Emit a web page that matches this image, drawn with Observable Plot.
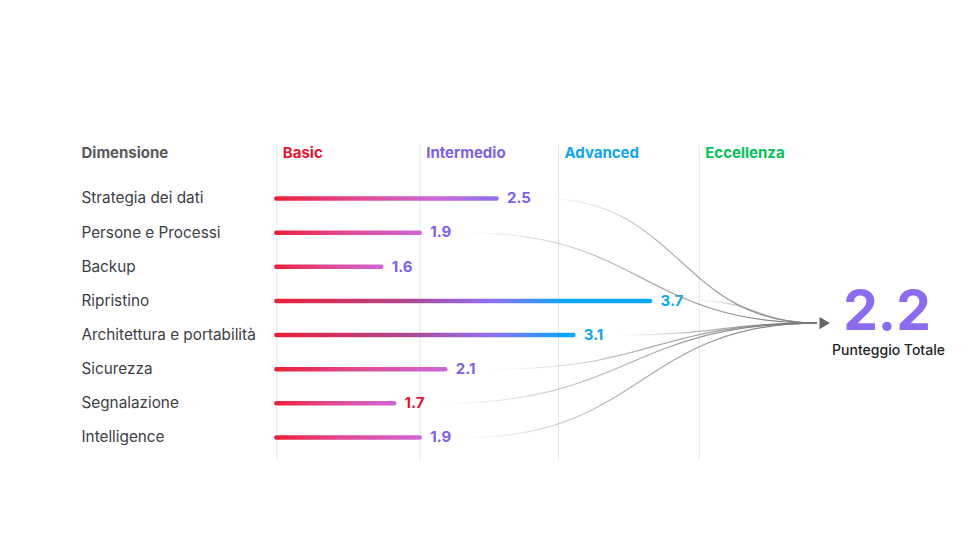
<!DOCTYPE html>
<html><head><meta charset="utf-8">
<script src="https://cdn.jsdelivr.net/npm/d3@7"></script>
<script src="https://cdn.jsdelivr.net/npm/@observablehq/plot@0.6"></script>
<style>
html,body{margin:0;padding:0;background:#fff;}
#chart{width:978px;height:558px;}
</style></head><body><div id="chart"></div>
<script>
// ---- data ----
const dimensions = ["Strategia dei dati","Persone e Processi","Backup","Ripristino","Architettura e portabilità","Sicurezza","Segnalazione","Intelligence"];
const scores = [2.5, 1.9, 1.6, 3.7, 3.1, 2.1, 1.7, 1.9];
const scoreLevels = ["Intermedio","Intermedio","Intermedio","Advanced","Advanced","Intermedio","Basic","Intermedio"];
const feedsTotal = [true, true, false, true, true, true, true, true];
const levelNames = ["Basic","Intermedio","Advanced","Eccellenza"];
const levelStarts = [0.78, 1.9, 2.98, 4.08];
const totalScore = 2.2;
const totalLabel = "Punteggio Totale";
const headerLabel = "Dimensione";

// ---- styling / layout ----
const levelColors = {Basic:"#e8132f", Intermedio:"#7d5ff2", Advanced:"#0aa5f7", Eccellenza:"#00c455"};
const HEADER_Y = -1.32;
const X_END = 5;
const TARGET_Y = 3.65;
const LINK_GAP = 0.36;

const rows = dimensions.map((name, i) => ({name, i, value: scores[i], level: scoreLevels[i], link: feedsTotal[i]}));
const levels = levelNames.map((name, i) => ({name, start: levelStarts[i]}));

const font = "Inter, 'Noto Sans', sans-serif";

const plot = Plot.plot({
  width: 978, height: 558,
  marginLeft: 81, marginTop: 145, marginBottom: 98, marginRight: 0,
  x: {domain: [0, 5], range: [176.5, 816.5], axis: null},
  y: {domain: [0, 7], range: [198, 437], axis: null},
  color: {type: "identity"},
  style: {fontFamily: font, background: "white", overflow: "visible"},
  marks: [
    Plot.ruleX(levels, {x: "start", stroke: "#e6e6e6", strokeWidth: 1}),
    Plot.text(levels, {x: "start", y: () => HEADER_Y, text: "name", dx: 6, textAnchor: "start",
      fill: d => levelColors[d.name], fontSize: 15, fontWeight: 700}),
    Plot.text([headerLabel], {y: () => HEADER_Y, text: d => d, frameAnchor: "left", textAnchor: "start",
      fill: "#5a5a5a", fontSize: 15, fontWeight: 700}),
    Plot.text(rows, {y: "i", text: "name", frameAnchor: "left", textAnchor: "start",
      fill: "#3c4046", fontSize: 15.3}),
    Plot.ruleY(rows, {y: "i", x1: () => levelStarts[0], x2: "value", stroke: "#e8203a",
      strokeWidth: 4.5, strokeLinecap: "round"}),
    Plot.text(rows, {x: "value", y: "i", text: d => d.value.toFixed(1), dx: 10, textAnchor: "start",
      fill: d => levelColors[d.level], fontSize: 15, fontWeight: 700}),
    Plot.link(rows.filter(d => d.link), {x1: d => d.value + LINK_GAP, y1: "i", x2: () => X_END, y2: () => TARGET_Y,
      curve: "bump-x", stroke: "#888", strokeWidth: 1.2}),
    Plot.dot([totalScore], {x: () => X_END, y: () => TARGET_Y, symbol: "triangle", rotate: 90, r: 4.5,
      fill: "#666", stroke: "none", dx: 6}),
    Plot.text([totalScore], {x: () => X_END, y: () => TARGET_Y, text: d => d.toFixed(1), dx: 70, dy: -11,
      fontSize: 55, fontWeight: 700, fill: "#8b6cf0", textAnchor: "middle"}),
    Plot.text([totalLabel], {x: () => X_END, y: () => TARGET_Y, text: d => d, dx: 71.5, dy: 27,
      fontSize: 14, fontWeight: 500, fill: "#1f1f1f", textAnchor: "middle"})
  ]
});
document.getElementById("chart").appendChild(plot);

// ---- gradients ----
const xs = plot.scale("x");
const svg = d3.select(plot);
const defs = svg.insert("defs", ":first-child");
const red = "#ec2038", pink = "#e2488f", orchid = "#cf66d6", mauve = "#b0468a", purple = "#8f6ff4", blue = "#08a8fc";

function stopsFor(v) {
  const a = xs.apply(levelStarts[0]), b = xs.apply(v);
  const f = t => Math.max(0, Math.min(1, (xs.apply(t) - a) / (b - a)));
  if (v >= 3) return [[0, red], [f(1.75), mauve], [f(2.45), purple], [f(3.05), blue], [1, blue]];
  if (v >= 2.3) return [[0, red], [0.35, pink], [0.72, orchid], [1, purple]];
  return [[0, red], [0.45, pink], [1, orchid]];
}

const ruleGroups = svg.selectAll('g[aria-label="rule"]').nodes();
const barGroup = ruleGroups[ruleGroups.length - 1];
d3.select(barGroup).selectAll("line").each(function(_, n) {
  const line = d3.select(this);
  const id = "bar-grad-" + n;
  const g = defs.append("linearGradient").attr("id", id).attr("gradientUnits", "userSpaceOnUse")
    .attr("x1", line.attr("x1")).attr("x2", line.attr("x2")).attr("y1", 0).attr("y2", 0);
  stopsFor(rows[n].value).forEach(([o, c]) => g.append("stop").attr("offset", o).attr("stop-color", c));
  line.attr("stroke", `url(#${id})`);
});

const fade = defs.append("linearGradient").attr("id", "link-fade").attr("x1", 0).attr("x2", 1).attr("y1", 0).attr("y2", 0);
fade.append("stop").attr("offset", 0).attr("stop-color", "#aaa").attr("stop-opacity", 0);
fade.append("stop").attr("offset", 0.4).attr("stop-color", "#999").attr("stop-opacity", 0.7);
fade.append("stop").attr("offset", 1).attr("stop-color", "#777").attr("stop-opacity", 1);
svg.selectAll('g[aria-label="link"] path').attr("stroke", "url(#link-fade)");
</script>
</body></html>
